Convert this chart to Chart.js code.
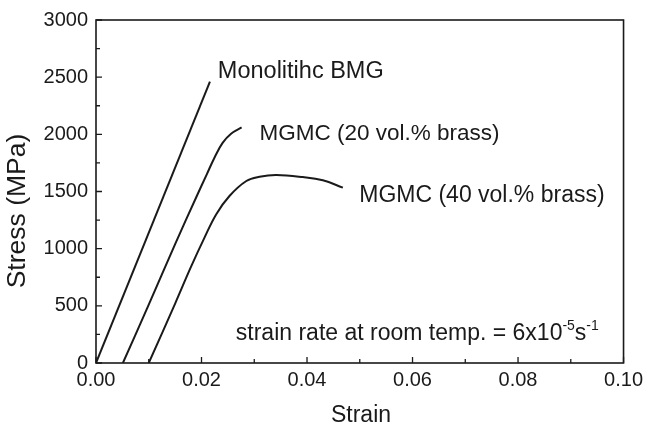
<!DOCTYPE html>
<html><head><meta charset="utf-8">
<script src="https://cdn.jsdelivr.net/npm/chart.js@4"></script>
<style>html,body{margin:0;padding:0;background:#fff}#wrap{width:648px;height:428px}</style>
</head><body><div id="wrap"><canvas id="c" width="648" height="428"></canvas></div>
<script>
// ---- data ----
const monoStrain = [0, 0.0216];
const monoStress = [0, 2460];
const m20Strain = [0.0051, 0.0100, 0.0150, 0.0190, 0.0210, 0.0225, 0.0240, 0.0256, 0.0276];
const m20Stress = [0, 510, 1040, 1450, 1650, 1800, 1925, 2005, 2060];
const m40Strain = [0.0100, 0.0150, 0.0180, 0.0205, 0.0228, 0.0253, 0.0285, 0.0310, 0.0342, 0.0392, 0.0430, 0.0468];
const m40Stress = [0, 520, 840, 1090, 1302, 1461, 1592, 1629, 1644, 1626, 1598, 1534];
const xTickValues = [0, 0.02, 0.04, 0.06, 0.08, 0.10];
const yTickValues = [0, 500, 1000, 1500, 2000, 2500, 3000];
const seriesLabels = ['Monolitihc BMG', 'MGMC (20 vol.% brass)', 'MGMC (40 vol.% brass)'];
const xTitle = 'Strain';
const yTitle = 'Stress (MPa)';

const pts = (xs, ys) => xs.map((x, i) => ({x, y: ys[i]}));
const FONT = '"Liberation Sans", Arial, Helvetica, sans-serif';
const INK = '#1a1a1a';

const decor = {
  id: 'decor',
  afterDraw(chart) {
    const {ctx, chartArea: a, scales: {x, y}} = chart;
    ctx.save();
    // frame
    ctx.strokeStyle = INK; ctx.lineWidth = 1.6;
    ctx.strokeRect(a.left, a.top, a.right - a.left, a.bottom - a.top);
    // inward ticks
    ctx.lineWidth = 1.3;
    ctx.beginPath();
    for (let v = 0; v <= 0.1 + 1e-9; v += 0.01) {
      const major = Math.abs(Math.round(v * 100) % 2) === 0;
      const px = x.getPixelForValue(v);
      ctx.moveTo(px, a.bottom); ctx.lineTo(px, a.bottom - (major ? 6 : 4));
    }
    for (let v = 0; v <= 3000; v += 250) {
      const major = v % 500 === 0;
      const py = y.getPixelForValue(v);
      ctx.moveTo(a.left, py); ctx.lineTo(a.left + (major ? 6 : 4), py);
    }
    ctx.stroke();
    // titles
    ctx.fillStyle = INK;
    ctx.textAlign = 'center'; ctx.textBaseline = 'middle';
    ctx.font = '23px ' + FONT;
    ctx.fillText(xTitle, 361, 416);
    ctx.save();
    ctx.translate(18, 211); ctx.rotate(-Math.PI / 2);
    ctx.font = '26.5px ' + FONT;
    ctx.fillText(yTitle, 0, 0);
    ctx.restore();
    // curve labels
    ctx.textAlign = 'left'; ctx.textBaseline = 'alphabetic';
    const lab = [[0.0231, 2495, 23.5], [0.0310, 1948, 22.5], [0.0499, 1412, 23]];
    seriesLabels.forEach((t, i) => {
      ctx.font = lab[i][2] + 'px ' + FONT;
      ctx.fillText(t, x.getPixelForValue(lab[i][0]), y.getPixelForValue(lab[i][1]));
    });
    // strain rate note
    let px = x.getPixelForValue(0.0265), py = y.getPixelForValue(203);
    const parts = [['strain rate at room temp. = 6x10', 0, 23], ['-5', -10, 14], ['s', 0, 23], ['-1', -10, 14]];
    parts.forEach(([t, dy, fs]) => {
      ctx.font = fs + 'px ' + FONT;
      ctx.fillText(t, px, py + dy);
      px += ctx.measureText(t).width;
    });
    ctx.restore();
  }
};

const lineStyle = {borderColor: INK, borderWidth: 2, pointRadius: 0, showLine: true, fill: false, tension: 0.4};

new Chart(document.getElementById('c'), {
  type: 'scatter',
  data: {
    datasets: [
      Object.assign({label: seriesLabels[0], data: pts(monoStrain, monoStress)}, lineStyle),
      Object.assign({label: seriesLabels[1], data: pts(m20Strain, m20Stress)}, lineStyle),
      Object.assign({label: seriesLabels[2], data: pts(m40Strain, m40Stress)}, lineStyle)
    ]
  },
  options: {
    responsive: false, animation: false, devicePixelRatio: 1,
    layout: {padding: {top: 18, right: 23, left: 0, bottom: 0}},
    plugins: {legend: {display: false}, tooltip: {enabled: false}},
    scales: {
      x: {
        type: 'linear', min: 0, max: 0.1,
        afterBuildTicks: s => { s.ticks = xTickValues.map(v => ({value: v})); },
        afterFit: s => { s.height = 65; },
        grid: {display: false, drawTicks: false}, border: {display: false},
        ticks: {padding: 5, color: INK, font: {family: FONT, size: 20}, maxRotation: 0, callback: v => Number(v).toFixed(2)}
      },
      y: {
        type: 'linear', min: 0, max: 3000,
        afterBuildTicks: s => { s.ticks = yTickValues.map(v => ({value: v})); },
        afterFit: s => { s.width = 96; },
        grid: {display: false, drawTicks: false}, border: {display: false},
        ticks: {padding: 8, color: INK, font: {family: FONT, size: 20}, callback: v => String(v)}
      }
    }
  },
  plugins: [decor]
});
</script></body></html>
